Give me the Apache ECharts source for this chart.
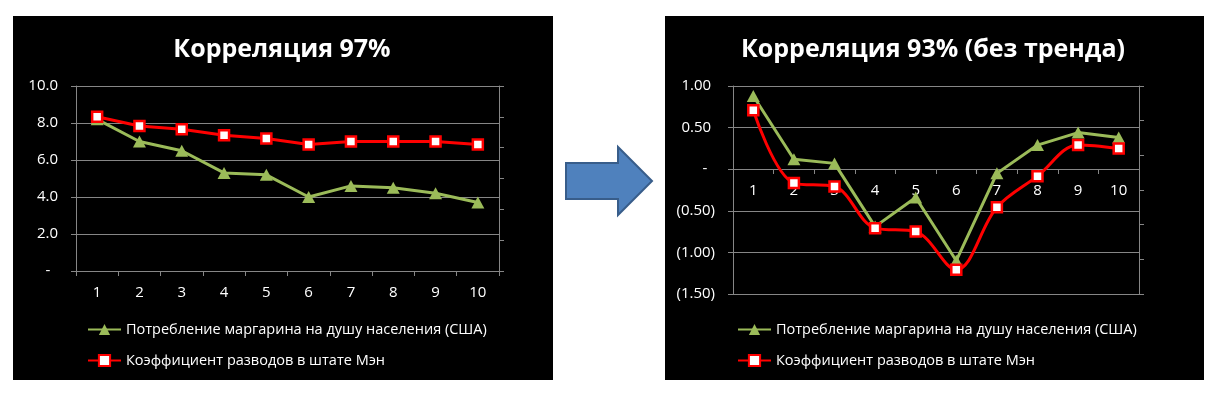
<!DOCTYPE html>
<html>
<head>
<meta charset="utf-8">
<script src="https://cdn.jsdelivr.net/npm/echarts@6/dist/echarts.min.js"></script>
<style>
  html, body { margin: 0; padding: 0; background: #fff; }
  #chart { width: 1220px; height: 398px; }
</style>
</head>
<body>
<div id="chart"></div>
<script>
// Data
const categories = ['1', '2', '3', '4', '5', '6', '7', '8', '9', '10'];
const margarineRaw = [8.2, 7.0, 6.5, 5.3, 5.2, 4.0, 4.6, 4.5, 4.2, 3.7];
const divorceRaw = [5.0, 4.7, 4.6, 4.4, 4.3, 4.1, 4.2, 4.2, 4.2, 4.1];
const margarineDetrended = [0.88, 0.12, 0.07, -0.69, -0.34, -1.10, -0.05, 0.29, 0.44, 0.38];
const divorceDetrended = [0.23, 0.02, 0.01, -0.11, -0.12, -0.23, -0.05, 0.04, 0.13, 0.12];

const NAME_MARG = 'Потребление маргарина на душу населения (США)';
const NAME_DIV = 'Коэффициент разводов в штате Мэн';
const titles = ['Корреляция 97%', 'Корреляция 93% (без тренда)'];

const GREEN = '#9BBB59';
const RED = '#FF0000';
const GRID_LINE = '#868686';
const TEXT = '#FFFFFF';
const FONT = '"Open Sans", sans-serif';

function fmtLeft(v) {
  return v === 0 ? '-  ' : v.toFixed(1);
}
// accounting style: (0.50), "-" for zero
function fmtRight(v) {
  if (Math.abs(v) < 1e-9) return '-  ';
  if (v < 0) return '(' + (-v).toFixed(2) + ')';
  return v.toFixed(2) + ' ';
}

const axisLabel = { color: TEXT, fontFamily: FONT, fontSize: 15 };

function primaryY(grid, min, max, interval, fmt) {
  return {
    type: 'value', gridIndex: grid, min, max, interval, position: 'left',
    axisLine: { show: true, lineStyle: { color: GRID_LINE } },
    axisTick: { show: true, length: 5, lineStyle: { color: GRID_LINE } },
    axisLabel: Object.assign({ formatter: fmt, margin: 18 }, axisLabel),
    splitLine: { show: true, lineStyle: { color: GRID_LINE } },
  };
}
function secondaryY(grid, min, max, interval) {
  return {
    type: 'value', gridIndex: grid, min, max, interval, position: 'right',
    axisLine: { show: true, onZero: false, lineStyle: { color: GRID_LINE } },
    axisTick: { show: true, length: 5, lineStyle: { color: GRID_LINE } },
    axisLabel: { show: false },
    splitLine: { show: false },
  };
}
// offset lifts the category axis of the right chart up to its zero line
function catX(grid, margin, offset) {
  return {
    type: 'category', gridIndex: grid, data: categories, position: 'bottom', offset: offset,
    axisLine: { show: true, onZero: false, lineStyle: { color: GRID_LINE } },
    axisTick: { show: true, length: 5, lineStyle: { color: GRID_LINE } },
    axisLabel: Object.assign({ margin: margin }, axisLabel),
  };
}

function greenSeries(xi, yi, data) {
  return {
    name: NAME_MARG, type: 'line', xAxisIndex: xi, yAxisIndex: yi, data,
    symbol: 'triangle', symbolSize: [13, 12],
    lineStyle: { color: GREEN, width: 3 },
    itemStyle: { color: GREEN, borderWidth: 0 },
    animation: false, z: 3,
  };
}
function redSeries(xi, yi, data, smooth) {
  return {
    name: NAME_DIV, type: 'line', xAxisIndex: xi, yAxisIndex: yi, data,
    smooth: smooth,
    symbol: 'rect', symbolSize: 10,
    lineStyle: { color: RED, width: 3 },
    itemStyle: { color: '#FFFFFF', borderColor: RED, borderWidth: 2.5 },
    animation: false, z: 4,
  };
}

function legendAt(left) {
  return {
    orient: 'vertical', left: left, top: 322, padding: 0,
    data: [NAME_MARG, NAME_DIV],
    itemWidth: 33, itemHeight: 14, itemGap: 16,
    textStyle: { color: TEXT, fontFamily: FONT, fontSize: 14.5 },
    selectedMode: false,
  };
}

const chart = echarts.init(document.getElementById('chart'), null, { renderer: 'canvas' });

chart.setOption({
  backgroundColor: '#FFFFFF',
  animation: false,
  graphic: [
    { type: 'rect', shape: { x: 13, y: 16, width: 540, height: 364 }, style: { fill: '#000' }, z: -10 },
    { type: 'rect', shape: { x: 665, y: 16, width: 539, height: 364 }, style: { fill: '#000' }, z: -10 },
    {
      type: 'polygon', z: -5,
      shape: { points: [[566, 163], [618, 163], [618, 147], [652, 181], [618, 215], [618, 199], [566, 199]] },
      style: { fill: '#4F81BD', stroke: '#385D8A', lineWidth: 2 },
    },
  ],
  title: [
    { text: titles[0], left: 277, top: 32, textAlign: 'center',
      textStyle: { color: TEXT, fontFamily: FONT, fontWeight: 'bold', fontSize: 25 } },
    { text: titles[1], left: 928, top: 32, textAlign: 'center',
      textStyle: { color: TEXT, fontFamily: FONT, fontWeight: 'bold', fontSize: 25 } },
  ],
  legend: [legendAt(87), legendAt(737)],
  grid: [
    { left: 76, top: 86, width: 423, height: 185, containLabel: false, outerBoundsMode: 'none' },
    { left: 733, top: 86, width: 406, height: 208, containLabel: false, outerBoundsMode: 'none' },
  ],
  xAxis: [catX(0, 14, 0), catX(1, 14, -125)],
  yAxis: [
    primaryY(0, 0, 10, 2, fmtLeft),
    secondaryY(0, 0, 6, 1),
    primaryY(1, -1.5, 1, 0.5, fmtRight),
    secondaryY(1, -0.3, 0.3, 0.1),
  ],
  series: [
    greenSeries(0, 0, margarineRaw),
    redSeries(0, 1, divorceRaw, false),
    greenSeries(1, 2, margarineDetrended),
    redSeries(1, 3, divorceDetrended, 0.35),
  ],
});
</script>
</body>
</html>
